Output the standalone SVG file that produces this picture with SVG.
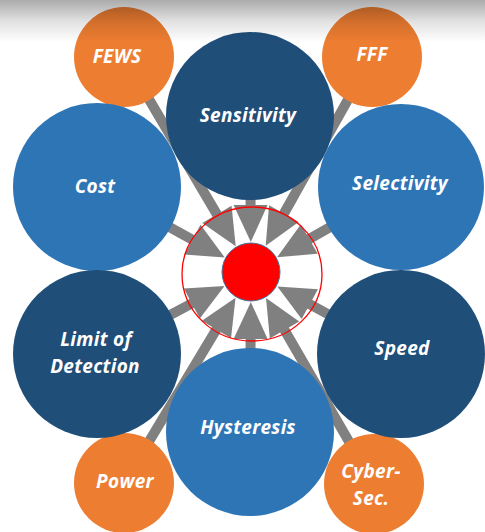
<svg xmlns="http://www.w3.org/2000/svg" xmlns:xlink="http://www.w3.org/1999/xlink" width="485" height="532" viewBox="0 0 485 532">
<defs>
<linearGradient id="topShade" x1="0" y1="0" x2="0" y2="1">
<stop offset="0" stop-color="#000" stop-opacity="0.33"/>
<stop offset="0.5" stop-color="#000" stop-opacity="0.12"/>
<stop offset="1" stop-color="#000" stop-opacity="0"/>
</linearGradient>
<polygon id="ah" points="281,272 318,255 318,289"/>
</defs>
<style>
.dark{fill:#1F4E79;}
.mid{fill:#2E75B6;}
.org{fill:#ED7D31;}
.spoke line{stroke:#808080;stroke-width:10;}
.spoke polygon, .spoke use{fill:#808080;}
text{font-family:"Open Sans","Liberation Sans",sans-serif;font-weight:bold;font-style:italic;fill:#fff;text-anchor:middle;font-size:19px;letter-spacing:0.3px;}
</style>
<rect width="485" height="532" fill="#fff"/>
<g id="connectors" class="spoke">
<g transform="rotate(-90.37 251 272)"><line x1="311" y1="272" x2="407" y2="272"/><use xlink:href="#ah"/></g>
<g transform="rotate(-120.57 251 272)"><line x1="311" y1="272" x2="500" y2="272"/><use xlink:href="#ah"/></g>
<g transform="rotate(-60.63 251 272)"><line x1="311" y1="272" x2="497" y2="272"/><use xlink:href="#ah"/></g>
<g transform="rotate(-151.1 251 272)"><line x1="311" y1="272" x2="427" y2="272"/><use xlink:href="#ah"/></g>
<g transform="rotate(-29.54 251 272)"><line x1="311" y1="272" x2="423" y2="272"/><use xlink:href="#ah"/></g>
<g transform="rotate(151.97 251 272)"><line x1="311" y1="272" x2="425" y2="272"/><use xlink:href="#ah"/></g>
<g transform="rotate(28.66 251 272)"><line x1="311" y1="272" x2="422" y2="272"/><use xlink:href="#ah"/></g>
<g transform="rotate(90.36 251 272)"><line x1="311" y1="272" x2="411" y2="272"/><use xlink:href="#ah"/></g>
<g transform="rotate(121.04 251 272)"><line x1="311" y1="272" x2="497" y2="272"/><use xlink:href="#ah"/></g>
<g transform="rotate(59.97 251 272)"><line x1="311" y1="272" x2="495" y2="272"/><use xlink:href="#ah"/></g>
</g>
<g id="ring"><ellipse cx="252" cy="274" rx="70" ry="67" fill="none" stroke="#FF0000" stroke-width="1.3"/></g>
<g id="core"><circle cx="251" cy="272" r="29" fill="#FF0000" stroke="#41719C" stroke-width="1"/></g>
<g id="fews"><circle class="org" cx="124" cy="57" r="50"/><text x="117" y="63">FEWS</text></g>
<g id="fff"><circle class="org" cx="372" cy="57" r="50"/><text x="372" y="61">FFF</text></g>
<g id="power"><circle class="org" cx="124" cy="483" r="50"/><text x="125" y="488">Power</text></g>
<g id="cybersec"><circle class="org" cx="374" cy="484" r="50"/><text x="371" y="478">Cyber-</text><text x="371" y="505">Sec.</text></g>
<g id="sensitivity"><circle class="dark" cx="250" cy="116" r="84"/><text x="248" y="122">Sensitivity</text></g>
<g id="cost"><circle class="mid" cx="97" cy="187" r="84"/><text x="95" y="193">Cost</text></g>
<g id="selectivity"><circle class="mid" cx="401" cy="187" r="83"/><text x="400" y="190">Selectivity</text></g>
<g id="limit"><circle class="dark" cx="97" cy="354" r="84"/><text x="96" y="346">Limit of</text><text x="95" y="373">Detection</text></g>
<g id="speed"><circle class="dark" cx="401" cy="354" r="84"/><text x="402" y="355">Speed</text></g>
<g id="hysteresis"><circle class="mid" cx="250" cy="432" r="84"/><text x="248" y="434">Hysteresis</text></g>
<rect id="shade" x="0" y="0" width="485" height="42" fill="url(#topShade)"/>
</svg>
